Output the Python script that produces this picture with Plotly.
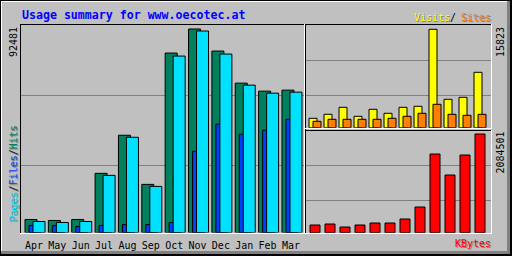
import plotly.graph_objects as go

months = ["Apr", "May", "Jun", "Jul", "Aug", "Sep", "Oct", "Nov", "Dec", "Jan", "Feb", "Mar"]
hits = [5922, 5467, 5922, 26879, 44190, 21867, 81548, 92481, 82459, 67880, 64236, 64691]
files = [3189, 3189, 2733, 3189, 3645, 3645, 4556, 36901, 49202, 44646, 46468, 51479]
pages = [5011, 4556, 5011, 25967, 43279, 20956, 80180, 91570, 81091, 66969, 63324, 63780]
visits = [1512, 2155, 3280, 1833, 2959, 2316, 3280, 3441, 15823, 4567, 4888, 8909]
sites = [1029, 1351, 1351, 1351, 1351, 1512, 1833, 2316, 3763, 2155, 1994, 2155]
kbytes = [162620, 183740, 120380, 162620, 204860, 204860, 289340, 542770,
          1662100, 1218600, 1641000, 2084501]

title_text = "Usage summary for www.oecotec.at"
max_hits_label = "92481"
max_visits_label = "15823"
max_kbytes_label = "2084501"

W, H = 512, 256
BG = "#C0C0C0"
DK = "#808080"
MONO = "DejaVu Sans Mono"

C_HITS = "#00805C"
C_FILES = "#0040FF"
C_PAGES = "#00E0FF"
C_VISITS = "#FFFF00"
C_SITES = "#FF8000"
C_KB = "#FF0000"


def px(x):
    return x / W


def py(y):
    return 1 - y / H


idx = list(range(len(months)))

# left chart geometry (pixels)
L_UNIT = 23.36
L_X0 = 34.0
L_LEFT, L_RIGHT = 21, 304
L_TOP, L_BASE, L_MAXPX = 25, 232.5, 29
la = -(L_X0 - L_LEFT) / L_UNIT
lb = la + (L_RIGHT - L_LEFT) / L_UNIT

# right charts geometry
R_UNIT = 15.0
R_X0 = 315.0
R_LEFT, R_RIGHT = 306, 490
ra = -(R_X0 - R_LEFT) / R_UNIT
rb = ra + (R_RIGHT - R_LEFT) / R_UNIT
T_TOP, T_BASE, T_MAXPX = 25, 127.7, 29.3
B_TOP, B_BASE, B_MAXPX = 131, 232.7, 134

fig = go.Figure()
line = dict(color="black", width=1)

fig.add_trace(go.Bar(x=idx, y=hits, offset=-9 / L_UNIT, width=12 / L_UNIT,
                     marker=dict(color=C_HITS, line=line), xaxis="x", yaxis="y", name="Hits"))
fig.add_trace(go.Bar(x=idx, y=files, offset=-5 / L_UNIT, width=12 / L_UNIT,
                     marker=dict(color=C_FILES, line=line), xaxis="x", yaxis="y", name="Files"))
fig.add_trace(go.Bar(x=idx, y=pages, offset=-1 / L_UNIT, width=12 / L_UNIT,
                     marker=dict(color=C_PAGES, line=line), xaxis="x", yaxis="y", name="Pages"))

fig.add_trace(go.Bar(x=idx, y=visits, offset=-6 / R_UNIT, width=8 / R_UNIT,
                     marker=dict(color=C_VISITS, line=line), xaxis="x2", yaxis="y2", name="Visits"))
fig.add_trace(go.Bar(x=idx, y=sites, offset=-2 / R_UNIT, width=8 / R_UNIT,
                     marker=dict(color=C_SITES, line=line), xaxis="x2", yaxis="y2", name="Sites"))

fig.add_trace(go.Bar(x=idx, y=kbytes, offset=-5 / R_UNIT, width=10 / R_UNIT,
                     marker=dict(color=C_KB, line=line), xaxis="x3", yaxis="y3", name="KBytes"))

hidden = dict(showgrid=False, zeroline=False, showline=False, showticklabels=False, ticks="")

shapes = []


def hline(y, x0, x1, color):
    shapes.append(dict(type="line", xref="paper", yref="paper",
                       x0=px(x0), x1=px(x1), y0=py(y + 0.5), y1=py(y + 0.5),
                       line=dict(color=color, width=1), layer="below"))


def vline(x, y0, y1, color):
    shapes.append(dict(type="line", xref="paper", yref="paper",
                       x0=px(x + 0.5), x1=px(x + 0.5), y0=py(y0), y1=py(y1),
                       line=dict(color=color, width=1), layer="below"))


def rect(x0, y0, x1, y1, color):
    shapes.append(dict(type="rect", xref="paper", yref="paper",
                       x0=px(x0), x1=px(x1), y0=py(y0), y1=py(y1),
                       fillcolor=color, line=dict(width=0), layer="below"))


# outer frame / bevel
rect(0, 251, W, 254, DK)
rect(507, 0, 510, 254, DK)
rect(0, 254, W, H, "black")
rect(510, 0, W, H, "black")
rect(0, 0, W, 1, "black")
rect(0, 0, 1, H, "black")
hline(1, 1, 507, "white")
vline(1, 1, 251, "white")

# gridlines
for y in (95, 165):
    hline(y, L_LEFT, L_RIGHT + 1, DK)
for y in (60, 95):
    hline(y, R_LEFT, R_RIGHT + 1, DK)
for y in (165, 200):
    hline(y, R_LEFT, R_RIGHT + 1, DK)

# plot frames (etched)
hline(24, 20, 305, "black")
vline(20, 24, 234, "black")
hline(233, 20, 305, "white")
vline(304, 24, 234, "white")

hline(24, 305, 491, "black")
vline(305, 24, 130, "black")
hline(128, 305, 492, "white")
vline(491, 24, 129, "white")

hline(130, 305, 491, "black")
vline(305, 130, 234, "black")
hline(233, 305, 492, "white")
vline(491, 130, 234, "white")

annotations = []


def text(x, y, s, color, size=10, angle=0, xanchor="center", bold=False, shadow=False):
    fam = MONO
    if shadow:
        annotations.append(dict(x=px(x + 1), y=py(y + 1), xref="paper", yref="paper",
                                text=s, showarrow=False, textangle=angle,
                                xanchor=xanchor, yanchor="middle",
                                font=dict(family=fam, size=size, color=DK)))
    t = "<b>%s</b>" % s if bold else s
    annotations.append(dict(x=px(x), y=py(y), xref="paper", yref="paper",
                            text=t, showarrow=False, textangle=angle,
                            xanchor=xanchor, yanchor="middle",
                            font=dict(family=fam, size=size, color=color)))


text(20, 15, title_text, "#0000FF", size=11.6, xanchor="left", bold=True)
text(412, 17, "Visits", C_VISITS, xanchor="left", shadow=True)
text(452.5, 17, "/", "black")
text(459, 17, "Sites", C_SITES, xanchor="left", shadow=True)
text(453, 243.5, "KBytes", C_KB, xanchor="left", shadow=True)

text(13, 42, max_hits_label, "black", angle=-90)
text(500, 42, max_visits_label, "black", angle=-90)
text(500, 152.5, max_kbytes_label, "black", angle=-90)

legend_shadow = "Pages/Files/Hits"
annotations.append(dict(x=px(14), y=py(174.5), xref="paper", yref="paper",
                        text=legend_shadow, showarrow=False, textangle=-90,
                        xanchor="center", yanchor="middle",
                        font=dict(family=MONO, size=10, color=DK)))
legend_html = ('<span style="color:%s">Pages</span>/<span style="color:%s">Files</span>'
               '/<span style="color:%s">Hits</span>' % (C_PAGES, C_FILES, C_HITS))
text(13, 173.5, legend_html, "#202020", size=10, angle=-90)

fig.update_layout(
    width=W, height=H, margin=dict(l=0, r=0, t=0, b=0),
    paper_bgcolor=BG, plot_bgcolor="rgba(0,0,0,0)",
    barmode="overlay", showlegend=False,
    xaxis=dict(domain=[px(L_LEFT), px(L_RIGHT)], range=[la, lb], anchor="y",
               tickvals=idx, ticktext=months, ticks="outside", ticklen=3,
               tickcolor="rgba(0,0,0,0)", showgrid=False, zeroline=False, showline=False,
               tickfont=dict(family=MONO, size=10, color="black")),
    yaxis=dict(domain=[py(L_BASE), py(L_TOP)],
               range=[0, max(hits) * (L_BASE - L_TOP) / (L_BASE - L_MAXPX)], anchor="x", **hidden),
    xaxis2=dict(domain=[px(R_LEFT), px(R_RIGHT)], range=[ra, rb], anchor="y2", **hidden),
    yaxis2=dict(domain=[py(T_BASE), py(T_TOP)],
                range=[0, max(visits) * (T_BASE - T_TOP) / (T_BASE - T_MAXPX)], anchor="x2", **hidden),
    xaxis3=dict(domain=[px(R_LEFT), px(R_RIGHT)], range=[ra, rb], anchor="y3", **hidden),
    yaxis3=dict(domain=[py(B_BASE), py(B_TOP)],
                range=[0, max(kbytes) * (B_BASE - B_TOP) / (B_BASE - B_MAXPX)], anchor="x3", **hidden),
    shapes=shapes, annotations=annotations,
)

fig.write_html("out.html")
